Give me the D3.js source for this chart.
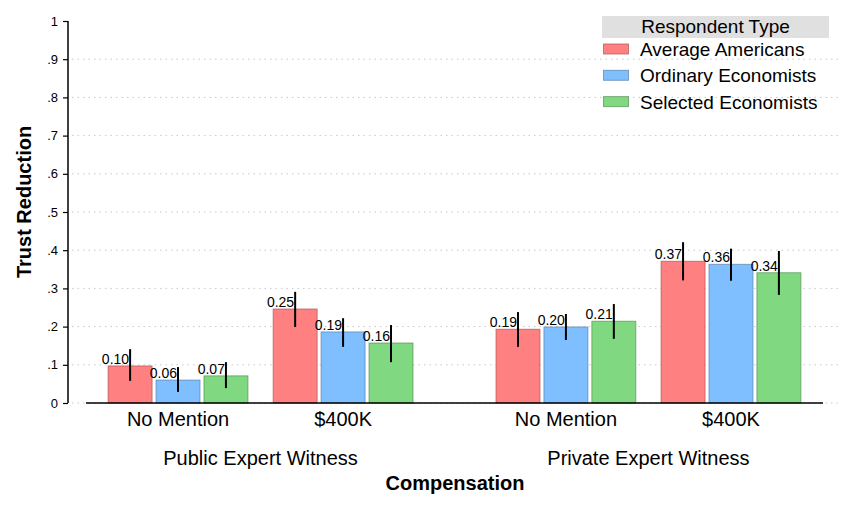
<!DOCTYPE html>
<html>
<head>
<meta charset="utf-8">
<script src="https://cdn.jsdelivr.net/npm/d3@7"></script>
<style>
  body { margin: 0; background: #fff; }
  svg { display: block; font-family: "Liberation Sans", Arial, sans-serif; }
</style>
</head>
<body>
<div id="chart"></div>
<script>
// data
const panels = ['Public Expert Witness', 'Private Expert Witness'];
const compensation = ['No Mention', '$400K'];
const respondents = ['Average Americans', 'Ordinary Economists', 'Selected Economists'];
const colors = ['#ff8080', '#80bfff', '#80d880'];
const yTicks = [0, 0.1, 0.2, 0.3, 0.4, 0.5, 0.6, 0.7, 0.8, 0.9, 1];

// means, by panel -> compensation -> respondent
const means = [
  [[0.097, 0.060, 0.071], [0.246, 0.186, 0.157]],
  [[0.193, 0.199, 0.214], [0.371, 0.363, 0.341]],
];
const ciLow = [
  [[0.058, 0.029, 0.039], [0.199, 0.147, 0.107]],
  [[0.147, 0.165, 0.168], [0.321, 0.320, 0.283]],
];
const ciHigh = [
  [[0.141, 0.094, 0.107], [0.291, 0.222, 0.204]],
  [[0.238, 0.233, 0.259], [0.421, 0.404, 0.398]],
];

const rows = [];
panels.forEach((p, i) => {
  compensation.forEach((c, j) => {
    respondents.forEach((r, k) => {
      rows.push({ panel: p, comp: c, resp: r, k,
        value: means[i][j][k], lo: ciLow[i][j][k], hi: ciHigh[i][j][k] });
    });
  });
});

const width = 845;
const height = 507;
const plotL = 86;
const plotR = 823;
const plotTop = 21;
const plotBottom = 403;

const svg = d3.select('#chart').append('svg')
  .attr('width', width).attr('height', height);

// scales
const y = d3.scaleLinear().domain([0, 1]).range([plotBottom, plotTop]);
const xPanel = d3.scaleBand().domain(panels).range([plotL, plotR])
  .paddingInner(0.2).paddingOuter(0.05);
const xComp = d3.scaleBand().domain(compensation).range([0, xPanel.bandwidth()])
  .paddingInner(0.12).paddingOuter(0);
const xResp = d3.scaleBand().domain(respondents).range([0, xComp.bandwidth()])
  .paddingInner(0.083).paddingOuter(0.057);
const color = d3.scaleOrdinal().domain(respondents).range(colors);

const barX = d => xPanel(d.panel) + xComp(d.comp) + xResp(d.resp);

// grid
svg.append('g').selectAll('line')
  .data(yTicks.filter(t => t < 1))
  .join('line')
  .attr('x1', 72).attr('x2', 838)
  .attr('y1', d => y(d)).attr('y2', d => y(d))
  .attr('stroke', '#c8c8c8')
  .attr('stroke-width', 1)
  .attr('stroke-dasharray', '1.5,4');

// y axis
const yAxis = d3.axisLeft(y).tickValues(yTicks).tickSize(5).tickPadding(5)
  .tickFormat(d => (d === 0 || d === 1 ? d3.format('d')(d) : d3.format('.1f')(d).replace(/^0/, '')));
const $yAxis = svg.append('g').attr('transform', 'translate(68,0)').call(yAxis);
$yAxis.select('.domain').attr('stroke', '#000').attr('stroke-width', 1.5)
  .attr('d', `M0,${plotTop}V${plotBottom}`);
$yAxis.selectAll('.tick line').attr('stroke', '#000').attr('stroke-width', 1.2);
$yAxis.selectAll('.tick text').attr('font-size', 13).attr('fill', '#000')
  .attr('font-family', '"Liberation Sans", Arial, sans-serif');

// bars
svg.append('g').selectAll('rect')
  .data(rows)
  .join('rect')
  .attr('x', d => barX(d))
  .attr('y', d => y(d.value))
  .attr('width', xResp.bandwidth())
  .attr('height', d => y(0) - y(d.value))
  .attr('fill', d => color(d.resp))
  .attr('stroke', d => d3.color(color(d.resp)).darker(1.1))
  .attr('stroke-opacity', 0.7)
  .attr('stroke-width', 1);

// baseline
svg.append('line')
  .attr('x1', plotL).attr('x2', plotR)
  .attr('y1', y(0)).attr('y2', y(0))
  .attr('stroke', '#000').attr('stroke-width', 1.5);

// error bars
svg.append('g').selectAll('line')
  .data(rows)
  .join('line')
  .attr('x1', d => barX(d) + xResp.bandwidth() / 2)
  .attr('x2', d => barX(d) + xResp.bandwidth() / 2)
  .attr('y1', d => y(d.hi))
  .attr('y2', d => y(d.lo))
  .attr('stroke', '#000')
  .attr('stroke-width', 2);

// value labels
svg.append('g').selectAll('text')
  .data(rows)
  .join('text')
  .attr('x', d => barX(d) + xResp.bandwidth() / 2 - 1)
  .attr('y', d => y(d.value) - 2)
  .attr('text-anchor', 'end')
  .attr('font-size', 14)
  .text(d => d3.format('.2f')(d.value));

// category labels
const $cats = svg.append('g');
panels.forEach(p => {
  compensation.forEach(c => {
    $cats.append('text')
      .attr('x', xPanel(p) + xComp(c) + xComp.bandwidth() / 2)
      .attr('y', 426)
      .attr('text-anchor', 'middle')
      .attr('font-size', 20)
      .text(c);
  });
  $cats.append('text')
    .attr('x', xPanel(p) + xPanel.bandwidth() / 2)
    .attr('y', 465)
    .attr('text-anchor', 'middle')
    .attr('font-size', 20)
    .text(p);
});

// axis titles
svg.append('text')
  .attr('x', 455).attr('y', 490)
  .attr('text-anchor', 'middle')
  .attr('font-size', 20).attr('font-weight', 'bold')
  .text('Compensation');

svg.append('text')
  .attr('transform', 'translate(31,202) rotate(-90)')
  .attr('text-anchor', 'middle')
  .attr('font-size', 20).attr('font-weight', 'bold')
  .text('Trust Reduction');

// legend
const $legend = svg.append('g').attr('transform', 'translate(602,16)');
$legend.append('rect')
  .attr('width', 227).attr('height', 22)
  .attr('fill', '#e0e0e0');
$legend.append('text')
  .attr('x', 113.5).attr('y', 17)
  .attr('text-anchor', 'middle')
  .attr('font-size', 19)
  .text('Respondent Type');
const $item = $legend.selectAll('.item')
  .data(respondents)
  .join('g')
  .attr('class', 'item')
  .attr('transform', (d, i) => `translate(0,${28 + i * 26.3})`);
$item.append('rect')
  .attr('x', 1.5).attr('width', 25).attr('height', 10)
  .attr('fill', d => color(d))
  .attr('stroke', d => d3.color(color(d)).darker(1.1))
  .attr('stroke-opacity', 0.7);
$item.append('text')
  .attr('x', 38).attr('y', 12)
  .attr('font-size', 19)
  .text(d => d);
</script>
</body>
</html>
